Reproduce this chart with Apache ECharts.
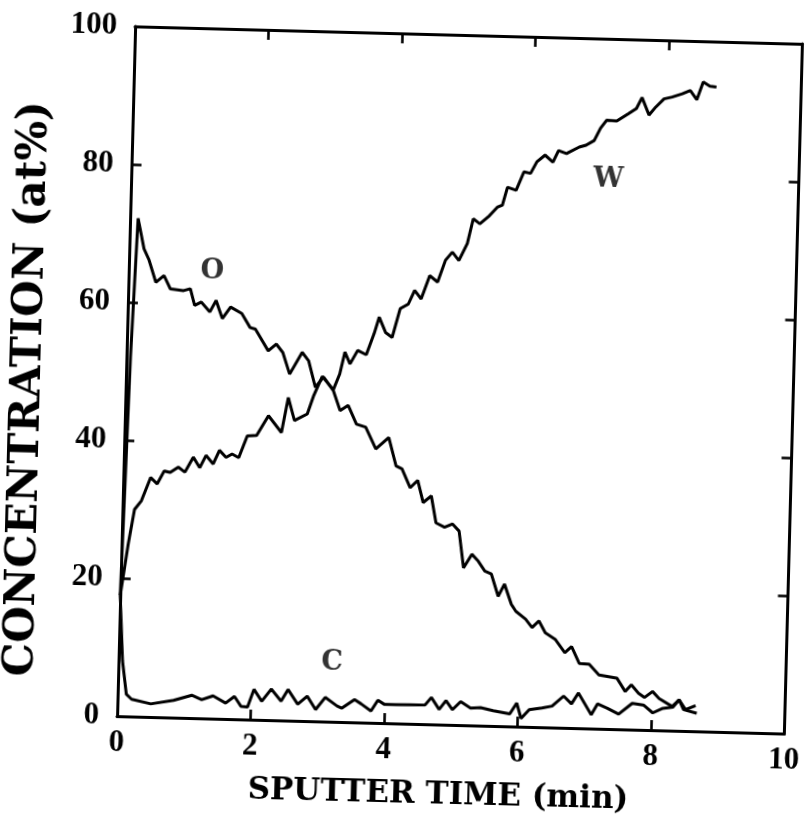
<!DOCTYPE html>
<html>
<head>
<meta charset="utf-8">
<script src="https://cdn.jsdelivr.net/npm/echarts@6/dist/echarts.min.js"></script>
<style>
html,body{margin:0;padding:0;background:#fff;overflow:hidden;}
#wrap{position:absolute;left:0;top:0;width:812px;height:824px;transform:rotate(1.5deg);transform-origin:461px 380px;}
#c{width:812px;height:824px;}
</style>
</head>
<body>
<div id="wrap"><div id="c"></div></div>
<script>
// Tick values
const xTicks = [0, 2, 4, 6, 8, 10];
const yTicks = [0, 20, 40, 60, 80, 100];

// W concentration vs sputter time
const wTime = [0,0.1,0.18,0.28,0.41,0.51,0.61,0.70,0.82,0.92,1.04,1.14,1.23,1.34,1.43,1.53,1.62,1.72,1.84,1.98,2.15,2.25,2.35,2.44,2.54,2.73,2.82,2.94,3.11,3.20,3.27,3.35,3.46,3.59,3.70,3.77,3.87,3.97,4.08,4.20,4.29,4.39,4.51,4.63,4.74,4.84,4.94,5.06,5.14,5.24,5.38,5.50,5.57,5.64,5.77,5.88,5.98,6.07,6.19,6.31,6.39,6.51,6.70,6.80,6.92,7.01,7.10,7.25,7.42,7.54,7.62,7.73,7.83,7.95,8.07,8.22,8.34,8.44,8.53,8.63,8.73];
const wConc = [17.5,25,30,31.3,34.7,33.8,35.7,35.5,36.3,35.6,37.8,36.3,38.1,36.9,38.9,37.9,38.4,37.9,41.1,41.2,44.1,42.9,41.7,46.8,43.5,44.5,47.2,50.0,48.1,50.4,53.6,51.9,53.9,53.3,56.4,58.8,56.6,55.9,60.1,60.8,62.8,61.6,65.0,64.1,67.3,68.5,67.3,69.8,73.4,72.7,73.9,75.2,75.5,78.1,77.7,80.4,80.2,81.9,82.9,81.9,83.6,83.2,84.2,84.5,85.2,87.0,88.2,88.1,89.2,90.0,91.6,89.1,90.3,91.5,91.8,92.3,92.8,91.5,94.1,93.5,93.4];

// O concentration vs sputter time
const oTime = [0,0.06,0.12,0.22,0.30,0.41,0.53,0.63,0.83,0.93,1.00,1.10,1.23,1.32,1.42,1.54,1.71,1.84,1.92,2.12,2.24,2.34,2.45,2.63,2.73,2.84,2.96,3.11,3.22,3.34,3.47,3.61,3.77,3.96,4.08,4.17,4.30,4.41,4.50,4.62,4.70,4.83,4.95,5.05,5.13,5.25,5.35,5.45,5.55,5.66,5.75,5.86,5.93,6.08,6.18,6.28,6.38,6.53,6.68,6.78,6.90,7.05,7.20,7.47,7.60,7.69,7.80,7.89,8.01,8.11,8.31,8.41,8.48,8.68];
const oConc = [17.5,52,72.2,67.8,66.2,63.0,64.0,62.1,61.9,62.2,59.8,60.3,58.9,60.6,58.0,59.7,58.8,56.8,56.6,53.5,54.5,53.3,50.2,53.4,52.2,48.4,49.9,48.0,45.1,45.9,43.2,42.8,39.7,41.4,37.3,36.9,34.2,35.3,32.1,33.1,29.2,28.6,29.1,28.1,22.8,24.8,23.8,22.4,22.0,18.8,20.6,17.7,16.7,15.6,14.4,15.4,13.7,12.8,10.9,11.8,9.4,9.3,7.8,7.4,5.5,6.5,5.3,4.7,5.6,4.6,3.5,4.5,3.1,2.6];

// C concentration vs sputter time
const cTime = [0,0.06,0.13,0.21,0.50,0.84,1.11,1.26,1.43,1.62,1.75,1.85,1.95,2.04,2.16,2.30,2.45,2.55,2.70,2.84,2.97,3.11,3.29,3.36,3.55,3.65,3.80,3.90,4.00,4.17,4.61,4.70,4.82,4.92,5.02,5.14,5.29,5.44,5.63,5.88,5.98,6.05,6.17,6.36,6.51,6.68,6.80,6.90,7.10,7.19,7.34,7.51,7.71,7.88,8.02,8.17,8.32,8.41,8.51,8.66];
const cConc = [17.5,8,3.2,2.5,1.9,2.5,3.3,2.7,3.3,2.3,3.3,1.9,1.8,4.4,2.7,4.5,2.8,4.5,2.4,3.6,1.7,3.5,2.3,2.0,3.3,2.7,1.7,3.3,2.7,2.7,2.8,3.9,2.2,3.5,2.2,3.4,2.5,2.6,2.2,1.8,3.4,1.2,2.5,2.8,3.1,4.6,3.5,5.1,2.0,3.6,3.0,2.2,3.8,3.6,2.5,3.2,3.4,4.5,3.1,3.7];

// Curve labels
const curveNames = ['O', 'W', 'C'];
const curveLabelX = [1.25, 7.15, 3.2];
const curveLabelY = [64.8, 79.5, 8.6];

const zip = (a, b) => a.map((v, i) => [v, b[i]]);
const lineStyle = {color: '#000', width: 3};
const axisLine = {show: true, onZero: false, lineStyle: {color: '#000', width: 3}};
const tick = {show: true, inside: true, length: 10, lineStyle: {color: '#000', width: 2.6}};
const digitFont = {color: '#000', fontFamily: 'Liberation Serif', fontWeight: 'bold', fontSize: 31};

const chart = echarts.init(document.getElementById('c'), null, {renderer: 'canvas'});
chart.setOption({
  backgroundColor: '#fff',
  animation: false,
  grid: {left: 119, right: 12, top: 35, bottom: 99, containLabel: false},
  xAxis: [
    {type: 'value', min: xTicks[0], max: xTicks[xTicks.length - 1], interval: 2, position: 'bottom',
     axisLine: axisLine, axisTick: tick, splitLine: {show: false},
     axisLabel: Object.assign({margin: 11}, digitFont),
     name: 'SPUTTER TIME (min)', nameLocation: 'middle', nameGap: 55,
     nameTextStyle: {color: '#000', fontFamily: 'DejaVu Serif', fontWeight: 'bold', fontSize: 31, padding: [0, 22, 0, 0]}},
    {type: 'value', min: xTicks[0], max: xTicks[xTicks.length - 1], interval: 2, position: 'top',
     axisLine: axisLine, axisTick: tick, splitLine: {show: false}, axisLabel: {show: false}}
  ],
  yAxis: [
    {type: 'value', min: yTicks[0], max: yTicks[yTicks.length - 1], interval: 20, position: 'left',
     axisLine: axisLine, axisTick: tick, splitLine: {show: false},
     axisLabel: Object.assign({margin: 18}, digitFont),
     name: 'CONCENTRATION (at%)', nameLocation: 'middle', nameGap: 76,
     nameTextStyle: {color: '#000', fontFamily: 'DejaVu Serif', fontWeight: 'bold', fontSize: 42, padding: [0, 40, 0, 0]}},
    {type: 'value', min: yTicks[0], max: yTicks[yTicks.length - 1], interval: 20, position: 'right',
     axisLine: axisLine, axisTick: tick, splitLine: {show: false}, axisLabel: {show: false}}
  ],
  series: [
    {type: 'line', name: 'W', data: zip(wTime, wConc), showSymbol: false, symbol: 'none', lineStyle: lineStyle, z: 3},
    {type: 'line', name: 'O', data: zip(oTime, oConc), showSymbol: false, symbol: 'none', lineStyle: lineStyle, z: 3},
    {type: 'line', name: 'C', data: zip(cTime, cConc), showSymbol: false, symbol: 'none', lineStyle: lineStyle, z: 3},
    {type: 'scatter', symbolSize: 0, silent: true,
     data: curveNames.map((n, i) => ({value: [curveLabelX[i], curveLabelY[i]], name: n})),
     label: {show: true, position: 'inside', formatter: p => p.name,
             color: '#000', fontFamily: 'DejaVu Serif', fontWeight: 'bold', fontSize: 27}}
  ]
});
</script>
</body>
</html>
